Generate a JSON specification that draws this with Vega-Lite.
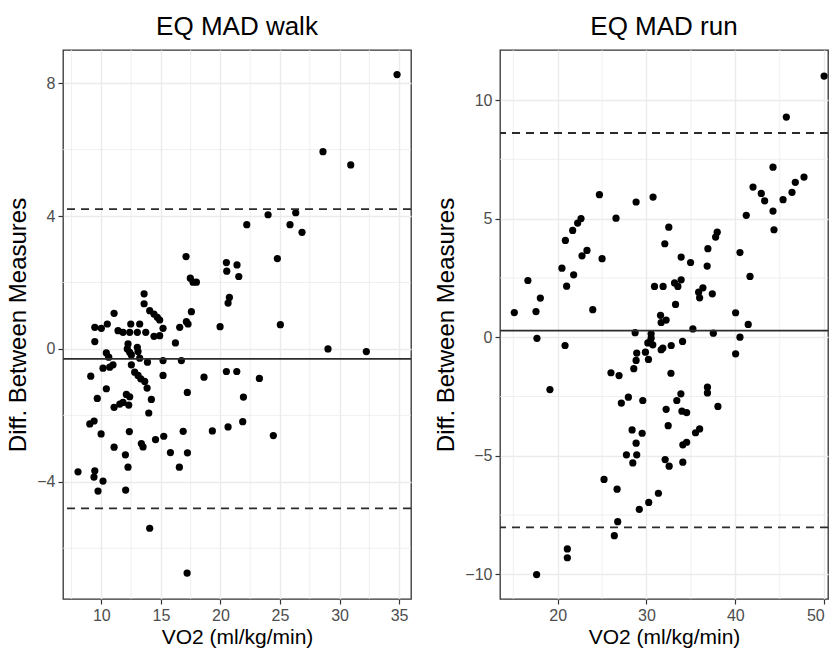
{
  "$schema": "https://vega.github.io/schema/vega-lite/v6.json",
  "background": "white",
  "padding": {"left": 6, "top": 12, "right": 0, "bottom": 0},
  "spacing": 21,
  "datasets": {
    "walk": [
      {"x":34.83,"y":8.26},{"x":28.61,"y":5.94},{"x":30.94,"y":5.54},{"x":24.0,"y":4.04},{"x":26.32,"y":4.10},{"x":25.84,"y":3.74},{"x":26.85,"y":3.51},{"x":22.21,"y":3.74},{"x":24.78,"y":2.72},{"x":17.11,"y":2.78},
      {"x":20.50,"y":2.60},{"x":21.39,"y":2.53},{"x":20.53,"y":2.34},{"x":21.54,"y":2.18},{"x":17.47,"y":2.13},{"x":17.70,"y":2.01},{"x":17.98,"y":2.01},{"x":20.75,"y":1.55},{"x":20.64,"y":1.38},{"x":13.59,"y":1.66},
      {"x":13.59,"y":1.36},{"x":11.07,"y":1.07},{"x":14.06,"y":1.15},{"x":14.42,"y":1.05},{"x":14.70,"y":0.95},{"x":14.90,"y":0.87},{"x":17.56,"y":1.12},{"x":17.14,"y":0.82},{"x":17.28,"y":0.75},{"x":16.58,"y":0.65},
      {"x":15.18,"y":0.62},{"x":9.45,"y":0.65},{"x":10.0,"y":0.62},{"x":10.50,"y":0.75},{"x":12.47,"y":0.75},{"x":13.22,"y":0.75},{"x":11.40,"y":0.55},{"x":11.82,"y":0.50},{"x":12.38,"y":0.50},{"x":13.02,"y":0.50},
      {"x":13.73,"y":0.50},{"x":14.42,"y":0.38},{"x":14.90,"y":0.40},{"x":9.45,"y":0.22},{"x":16.22,"y":0.18},{"x":12.24,"y":0.15},{"x":12.18,"y":0.0},{"x":12.38,"y":-0.10},{"x":13.02,"y":0.05},{"x":13.08,"y":-0.08},
      {"x":10.42,"y":-0.12},{"x":10.62,"y":-0.25},{"x":12.52,"y":-0.18},{"x":13.22,"y":-0.28},{"x":13.87,"y":-0.40},{"x":15.18,"y":-0.35},{"x":16.72,"y":-0.35},{"x":10.14,"y":-0.58},{"x":10.70,"y":-0.55},{"x":10.98,"y":-0.48},
      {"x":12.52,"y":-0.48},{"x":12.80,"y":-0.70},{"x":13.08,"y":-0.80},{"x":13.31,"y":-0.90},{"x":13.64,"y":-0.98},{"x":13.84,"y":-1.18},{"x":9.11,"y":-0.82},{"x":15.18,"y":-0.80},{"x":18.62,"y":-0.85},{"x":10.42,"y":-1.20},
      {"x":17.22,"y":-1.31},{"x":20.50,"y":-0.68},{"x":21.37,"y":-0.68},{"x":23.27,"y":-0.89},{"x":29.03,"y":0.0},{"x":32.25,"y":-0.08},{"x":25.03,"y":0.73},{"x":19.97,"y":0.67},{"x":12.1,"y":-1.37},{"x":12.38,"y":-1.44},
      {"x":9.66,"y":-1.49},{"x":14.2,"y":-1.52},{"x":21.93,"y":-1.45},{"x":11.07,"y":-1.76},{"x":11.55,"y":-1.66},{"x":11.82,"y":-1.61},{"x":12.30,"y":-1.69},{"x":13.98,"y":-1.93},{"x":9.03,"y":-2.26},{"x":9.39,"y":-2.17},
      {"x":21.87,"y":-2.19},{"x":20.64,"y":-2.35},{"x":19.32,"y":-2.47},{"x":16.87,"y":-2.48},{"x":12.35,"y":-2.49},{"x":9.98,"y":-2.56},{"x":24.44,"y":-2.61},{"x":15.24,"y":-2.63},{"x":14.55,"y":-2.73},{"x":13.36,"y":-2.85},
      {"x":13.50,"y":-2.95},{"x":11.07,"y":-2.96},{"x":15.8,"y":-3.12},{"x":17.23,"y":-3.13},{"x":12.02,"y":-3.19},{"x":16.55,"y":-3.56},{"x":12.24,"y":-3.56},{"x":8.04,"y":-3.70},{"x":9.45,"y":-3.67},{"x":9.38,"y":-3.86},
      {"x":10.14,"y":-3.98},{"x":9.72,"y":-4.28},{"x":12.04,"y":-4.25},{"x":14.06,"y":-5.40},{"x":17.20,"y":-6.75}
    ],
    "run": [
      {"x":49.99,"y":11.01},{"x":45.74,"y":9.28},{"x":44.24,"y":7.17},{"x":47.73,"y":6.75},{"x":46.75,"y":6.53},{"x":46.38,"y":6.11},{"x":45.37,"y":5.80},{"x":41.99,"y":6.33},{"x":42.92,"y":6.06},{"x":43.30,"y":5.75},
      {"x":44.24,"y":5.32},{"x":44.35,"y":4.53},{"x":41.23,"y":5.14},{"x":40.52,"y":3.57},{"x":41.65,"y":2.56},{"x":40.03,"y":1.03},{"x":41.45,"y":0.54},{"x":40.52,"y":0.0},{"x":24.70,"y":6.01},{"x":28.83,"y":5.70},
      {"x":30.74,"y":5.91},{"x":26.57,"y":5.02},{"x":22.63,"y":5.0},{"x":22.25,"y":4.81},{"x":21.69,"y":4.50},{"x":20.87,"y":4.08},{"x":25.0,"y":3.31},{"x":23.30,"y":3.66},{"x":22.74,"y":3.43},{"x":20.48,"y":2.91},
      {"x":21.80,"y":2.63},{"x":21.01,"y":2.15},{"x":16.65,"y":2.39},{"x":18.05,"y":1.65},{"x":15.12,"y":1.04},{"x":17.56,"y":1.08},{"x":23.95,"y":1.16},{"x":32.51,"y":4.64},{"x":32.06,"y":3.94},{"x":33.90,"y":3.38},
      {"x":34.96,"y":3.15},{"x":37.96,"y":4.43},{"x":37.78,"y":4.22},{"x":36.91,"y":3.73},{"x":36.83,"y":3.0},{"x":30.90,"y":2.14},{"x":31.87,"y":2.14},{"x":33.16,"y":2.29},{"x":33.90,"y":2.42},{"x":33.53,"y":2.14},
      {"x":36.35,"y":2.08},{"x":35.87,"y":1.90},{"x":35.98,"y":1.66},{"x":37.41,"y":1.83},{"x":33.27,"y":1.38},{"x":31.58,"y":0.92},{"x":31.65,"y":0.62},{"x":32.21,"y":0.72},{"x":35.22,"y":0.35},{"x":28.72,"y":0.19},
      {"x":30.52,"y":0.14},{"x":30.52,"y":-0.04},{"x":37.52,"y":0.17},{"x":17.67,"y":-0.05},{"x":34.06,"y":-0.18},{"x":30.4,"y":-0.21},{"x":20.83,"y":-0.35},{"x":30.15,"y":-0.24},{"x":30.71,"y":-0.32},{"x":32.78,"y":-0.35},
      {"x":31.84,"y":-0.46},{"x":31.65,"y":-0.53},{"x":29.88,"y":-0.63},{"x":28.90,"y":-0.67},{"x":28.83,"y":-0.98},{"x":30.22,"y":-0.94},{"x":40.03,"y":-0.70},{"x":28.57,"y":-1.33},{"x":26.0,"y":-1.50},{"x":26.91,"y":-1.62},
      {"x":32.75,"y":-1.52},{"x":19.13,"y":-2.21},{"x":36.86,"y":-2.11},{"x":36.86,"y":-2.35},{"x":33.87,"y":-2.39},{"x":27.96,"y":-2.53},{"x":27.17,"y":-2.78},{"x":29.58,"y":-2.67},{"x":33.41,"y":-2.67},{"x":38.04,"y":-2.92},
      {"x":32.21,"y":-3.04},{"x":33.99,"y":-3.12},{"x":34.52,"y":-3.18},{"x":32.44,"y":-3.73},{"x":28.38,"y":-3.91},{"x":29.51,"y":-4.05},{"x":35.98,"y":-3.87},{"x":35.52,"y":-4.03},{"x":28.83,"y":-4.47},{"x":34.09,"y":-4.54},
      {"x":34.52,"y":-4.43},{"x":27.74,"y":-4.96},{"x":28.90,"y":-4.96},{"x":28.46,"y":-5.30},{"x":32.10,"y":-5.16},{"x":32.55,"y":-5.44},{"x":34.09,"y":-5.27},{"x":25.22,"y":-6.0},{"x":26.69,"y":-6.41},{"x":31.34,"y":-6.58},
      {"x":30.25,"y":-6.97},{"x":29.19,"y":-7.26},{"x":26.76,"y":-7.78},{"x":26.38,"y":-8.37},{"x":21.09,"y":-8.93},{"x":21.09,"y":-9.30},{"x":17.63,"y":-10.01}
    ],
    "lines": [
      {"panel":"walk","kind":"mean","y":-0.30},{"panel":"walk","kind":"limit","y":4.21},{"panel":"walk","kind":"limit","y":-4.80},
      {"panel":"run","kind":"mean","y":0.28},{"panel":"run","kind":"limit","y":8.61},{"panel":"run","kind":"limit","y":-8.02}
    ],
    "minor": [
      {"panel":"walk","dir":"x","v":7.5},{"panel":"walk","dir":"x","v":12.5},{"panel":"walk","dir":"x","v":17.5},{"panel":"walk","dir":"x","v":22.5},{"panel":"walk","dir":"x","v":27.5},{"panel":"walk","dir":"x","v":32.5},
      {"panel":"walk","dir":"y","v":-6},{"panel":"walk","dir":"y","v":-2},{"panel":"walk","dir":"y","v":2},{"panel":"walk","dir":"y","v":6},
      {"panel":"run","dir":"x","v":15},{"panel":"run","dir":"x","v":25},{"panel":"run","dir":"x","v":35},{"panel":"run","dir":"x","v":45},
      {"panel":"run","dir":"y","v":-7.5},{"panel":"run","dir":"y","v":-2.5},{"panel":"run","dir":"y","v":2.5},{"panel":"run","dir":"y","v":7.5}
    ]
  },
  "hconcat": [
    {
      "width": 348,
      "height": 549,
      "title": {"text": "EQ MAD walk", "offset": 10},
      "layer": [
        {
          "data": {"name": "minor"},
          "transform": [{"filter": "datum.panel == 'walk' && datum.dir == 'x'"}],
          "mark": {"type": "rule", "color": "#EBEBEB", "strokeWidth": 0.8},
          "encoding": {"x": {"field": "v", "type": "quantitative", "scale": {"domain": [6.78, 36.0], "nice": false, "zero": false}}}
        },
        {
          "data": {"name": "minor"},
          "transform": [{"filter": "datum.panel == 'walk' && datum.dir == 'y'"}],
          "mark": {"type": "rule", "color": "#EBEBEB", "strokeWidth": 0.8},
          "encoding": {"y": {"field": "v", "type": "quantitative", "scale": {"domain": [-7.53, 9.0], "nice": false, "zero": false}}}
        },
        {
          "data": {"name": "walk"},
          "mark": {"type": "circle", "size": 52, "color": "#000000", "opacity": 1},
          "encoding": {
            "x": {"field": "x", "type": "quantitative", "scale": {"domain": [6.78, 36.0], "nice": false, "zero": false},
                  "axis": {"title": "VO2 (ml/kg/min)", "values": [10, 15, 20, 25, 30, 35]}},
            "y": {"field": "y", "type": "quantitative", "scale": {"domain": [-7.53, 9.0], "nice": false, "zero": false},
                  "axis": {"title": "Diff. Between Measures", "values": [-4, 0, 4, 8], "titleFontSize": 24, "titlePadding": 6}}
          }
        },
        {
          "data": {"name": "lines"},
          "transform": [{"filter": "datum.panel == 'walk' && datum.kind == 'mean'"}],
          "mark": {"type": "rule", "color": "#2b2b2b", "strokeWidth": 1.8},
          "encoding": {"y": {"field": "y", "type": "quantitative", "scale": {"domain": [-7.53, 9.0], "nice": false, "zero": false}}}
        },
        {
          "data": {"name": "lines"},
          "transform": [{"filter": "datum.panel == 'walk' && datum.kind == 'limit'"}],
          "mark": {"type": "rule", "color": "#2b2b2b", "strokeWidth": 1.8, "strokeDash": [8, 6]},
          "encoding": {"y": {"field": "y", "type": "quantitative", "scale": {"domain": [-7.53, 9.0], "nice": false, "zero": false}}}
        }
      ]
    },
    {
      "width": 328,
      "height": 549,
      "title": {"text": "EQ MAD run", "offset": 10},
      "layer": [
        {
          "data": {"name": "minor"},
          "transform": [{"filter": "datum.panel == 'run' && datum.dir == 'x'"}],
          "mark": {"type": "rule", "color": "#EBEBEB", "strokeWidth": 0.8},
          "encoding": {"x": {"field": "v", "type": "quantitative", "scale": {"domain": [13.51, 50.43], "nice": false, "zero": false}}}
        },
        {
          "data": {"name": "minor"},
          "transform": [{"filter": "datum.panel == 'run' && datum.dir == 'y'"}],
          "mark": {"type": "rule", "color": "#EBEBEB", "strokeWidth": 0.8},
          "encoding": {"y": {"field": "v", "type": "quantitative", "scale": {"domain": [-11.04, 12.11], "nice": false, "zero": false}}}
        },
        {
          "data": {"name": "run"},
          "mark": {"type": "circle", "size": 52, "color": "#000000", "opacity": 1},
          "encoding": {
            "x": {"field": "x", "type": "quantitative", "scale": {"domain": [13.51, 50.43], "nice": false, "zero": false},
                  "axis": {"title": "VO2 (ml/kg/min)", "values": [20, 30, 40, 50], "labelFlush": 10}},
            "y": {"field": "y", "type": "quantitative", "scale": {"domain": [-11.04, 12.11], "nice": false, "zero": false},
                  "axis": {"title": "Diff. Between Measures", "values": [-10, -5, 0, 5, 10], "titleFontSize": 24, "titlePadding": 6}}
          }
        },
        {
          "data": {"name": "lines"},
          "transform": [{"filter": "datum.panel == 'run' && datum.kind == 'mean'"}],
          "mark": {"type": "rule", "color": "#2b2b2b", "strokeWidth": 1.8},
          "encoding": {"y": {"field": "y", "type": "quantitative", "scale": {"domain": [-11.04, 12.11], "nice": false, "zero": false}}}
        },
        {
          "data": {"name": "lines"},
          "transform": [{"filter": "datum.panel == 'run' && datum.kind == 'limit'"}],
          "mark": {"type": "rule", "color": "#2b2b2b", "strokeWidth": 1.8, "strokeDash": [8, 6]},
          "encoding": {"y": {"field": "y", "type": "quantitative", "scale": {"domain": [-11.04, 12.11], "nice": false, "zero": false}}}
        }
      ]
    }
  ],
  "config": {
    "view": {"stroke": "#333333", "strokeWidth": 1.3},
    "axis": {
      "domain": false,
      "grid": true,
      "gridColor": "#EBEBEB",
      "gridWidth": 1.4,
      "tickColor": "#333333",
      "tickSize": 5,
      "tickWidth": 1.2,
      "labelColor": "#4D4D4D",
      "labelFont": "Liberation Sans",
      "labelFontSize": 16,
      "labelPadding": 3,
      "titleFont": "Liberation Sans",
      "titleFontSize": 21,
      "titleFontWeight": "normal",
      "titleColor": "#000000",
      "titlePadding": 3
    },
    "title": {"font": "Liberation Sans", "fontSize": 26, "fontWeight": "normal", "color": "#000000", "anchor": "middle", "frame": "group"}
  }
}
